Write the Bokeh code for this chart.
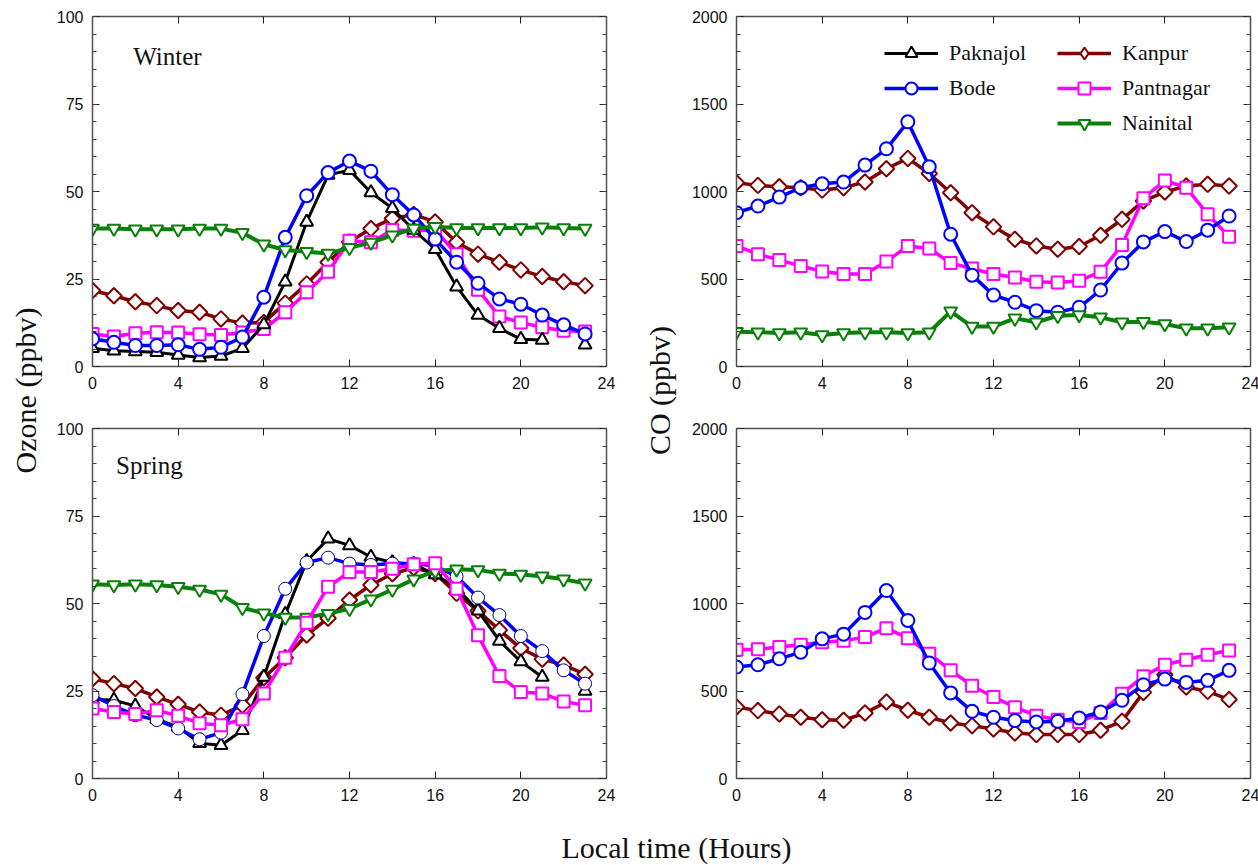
import math
from bokeh.plotting import figure
from bokeh.models import (LinearAxis, Range1d, Legend, LegendItem, Label, FixedTicker,
                          CustomLabelingPolicy)
from bokeh.layouts import row, column
from bokeh.embed import file_html
from bokeh.resources import INLINE

nan = float("nan")
hours = list(range(24))
x_ticks = [0, 4, 8, 12, 16, 20, 24]

# Ozone (ppbv), winter
o3_win_paknajol = [5.2, 4.5, 4.3, 4.1, 3.3, 2.6, 3.0, 5.2, 12.0, 24.2, 41.3, 54.7,
                   56.1, 49.7, 45.2, 39.0, 33.5, 22.8, 14.7, 10.9, 7.8, 7.6, nan, 6.2]
o3_win_bode = [7.9, 6.9, 6.0, 6.0, 6.2, 4.9, 5.5, 8.4, 19.8, 36.9, 48.8, 55.4,
               58.7, 55.8, 49.1, 43.3, 36.4, 29.8, 23.8, 19.3, 17.8, 14.7, 11.9, 9.3]
o3_win_kanpur = [21.7, 20.2, 18.5, 17.4, 16.0, 15.5, 13.6, 12.4, 12.6, 18.1, 23.6, 29.8,
                 35.6, 39.4, 42.3, 43.4, 41.3, 35.5, 32.1, 29.8, 27.6, 25.7, 24.2, 23.1]
o3_win_pantnagar = [9.3, 8.6, 9.5, 9.8, 9.7, 9.2, 9.0, 9.7, 10.7, 15.5, 21.2, 27.1,
                    35.9, 35.5, 39.0, 38.8, 39.0, 32.1, 21.9, 14.3, 12.6, 11.2, 10.2, 10.0]
o3_win_nainital = [39.4, 39.4, 39.2, 39.2, 39.2, 39.4, 39.4, 38.2, 34.9, 33.3, 32.8, 32.3,
                   33.9, 35.4, 37.5, 39.4, 39.9, 39.6, 39.6, 39.6, 39.6, 39.8, 39.6, 39.4]

# Ozone (ppbv), spring
o3_spr_paknajol = [22.6, 22.4, 20.7, 17.0, 14.7, 10.1, 9.5, 13.8, 29.0, 46.9, 62.1, 68.5,
                   66.6, 63.3, 61.7, 61.2, 58.3, 54.5, 47.9, 39.3, 33.4, 29.0, nan, 25.0]
o3_spr_bode = [23.8, 20.7, 18.1, 16.7, 14.3, 11.2, 13.1, 24.1, 40.7, 54.2, 61.7, 63.1,
               61.4, 61.0, 61.4, 61.4, 60.7, 57.7, 51.7, 46.7, 40.7, 36.4, 30.9, 27.1]
o3_spr_kanpur = [28.5, 27.1, 25.7, 23.3, 21.2, 19.0, 18.1, 20.9, 28.8, 34.5, 41.0, 45.8,
                 51.0, 55.3, 58.5, 60.2, 58.6, 52.9, 47.9, 42.4, 37.2, 34.1, 32.4, 29.8]
o3_spr_pantnagar = [20.0, 19.0, 18.4, 19.5, 17.9, 15.8, 15.2, 16.9, 24.3, 34.5, 44.5, 54.8,
                    59.0, 59.0, 59.9, 61.2, 61.5, 54.2, 40.9, 29.3, 24.7, 24.3, 22.0, 20.9]
o3_spr_nainital = [55.5, 55.3, 55.5, 55.3, 54.8, 54.0, 52.6, 48.8, 47.2, 46.0, 46.0, 47.1,
                   48.5, 51.2, 54.0, 56.9, 59.3, 59.8, 59.6, 58.6, 58.3, 57.8, 56.9, 55.8]

# CO (ppbv), winter (no Paknajol CO data; it only appears in the legend)
legend_only = [nan] * 24
co_win_bode = [879, 917, 968, 1022, 1044, 1054, 1151, 1244, 1398, 1141, 756, 522,
               408, 367, 319, 310, 338, 437, 591, 712, 771, 714, 779, 860]
co_win_kanpur = [1050, 1035, 1027, 1022, 1008, 1022, 1054, 1130, 1189, 1103, 993, 879,
                 798, 727, 689, 670, 686, 750, 841, 946, 997, 1031, 1041, 1031]
co_win_pantnagar = [689, 642, 608, 575, 543, 528, 528, 600, 689, 674, 591, 560,
                    528, 509, 484, 480, 490, 541, 695, 961, 1063, 1022, 870, 741]
co_win_nainital = [199, 196, 192, 196, 180, 192, 196, 196, 192, 196, 315, 228,
                   228, 275, 253, 290, 294, 281, 253, 256, 243, 218, 218, 224]

# CO (ppbv), spring
co_spr_bode = [637, 650, 684, 722, 798, 825, 949, 1074, 903, 660, 489, 384,
               350, 331, 323, 327, 346, 380, 447, 536, 568, 549, 561, 618]
co_spr_kanpur = [409, 388, 369, 350, 336, 333, 374, 437, 390, 350, 317, 302,
                 283, 260, 251, 251, 251, 276, 327, 492, 593, 523, 498, 451]
co_spr_pantnagar = [736, 739, 751, 764, 779, 787, 808, 859, 802, 713, 618, 530,
                    466, 407, 359, 336, 323, 374, 485, 584, 650, 679, 707, 732]

# site styles: colour, marker, marker size, line width, marker angle
styles = {
    "Paknajol": ("#000000", "triangle", 13, 3, 0),
    "Bode": ("#0000ff", "circle", 13, 3.5, 0),
    "Kanpur": ("#800000", "square", 11, 3.5, math.pi / 4),
    "Pantnagar": ("#ff00ff", "square", 12, 3.5, 0),
    "Nainital": ("#0a800a", "inverted_triangle", 13, 4, 0),
}

TICK_FONT = "Liberation Sans"
TEXT_FONT = "Liberation Serif"
no_labels = CustomLabelingPolicy(code="return new Set()")


def style_axis(axis, show_labels):
    axis.axis_line_color = "#505050"
    axis.axis_line_width = 1.5
    axis.major_tick_in = 7
    axis.major_tick_out = 0
    axis.minor_tick_in = 4
    axis.minor_tick_out = 0
    axis.major_tick_line_color = "#202020"
    axis.minor_tick_line_color = "#404040"
    axis.major_label_text_font = TICK_FONT
    axis.major_label_text_color = "#111111"
    axis.major_label_text_font_size = "16px"
    if not show_labels:
        axis.major_label_policy = no_labels
        axis.major_label_standoff = 0


def make_panel(ymax, ystep, yminor, left, right, top, bottom):
    p = figure(frame_width=514, frame_height=350,
               x_range=Range1d(0, 24), y_range=Range1d(0, ymax),
               output_backend="svg", toolbar_location=None,
               min_border_left=left, min_border_right=right,
               min_border_top=top, min_border_bottom=bottom)
    p.xgrid.visible = False
    p.ygrid.visible = False
    p.outline_line_color = None
    xt = FixedTicker(ticks=x_ticks, minor_ticks=[])
    yt = FixedTicker(ticks=list(range(0, ymax + 1, ystep)),
                     minor_ticks=list(range(0, ymax + 1, yminor)))
    p.xaxis.ticker = xt
    p.yaxis.ticker = yt
    style_axis(p.xaxis[0], True)
    style_axis(p.yaxis[0], True)
    p.xaxis.major_label_standoff = 10
    p.yaxis.major_label_standoff = 9
    ax_top = LinearAxis(ticker=xt)
    style_axis(ax_top, False)
    p.add_layout(ax_top, "above")
    ax_right = LinearAxis(ticker=yt)
    style_axis(ax_right, False)
    p.add_layout(ax_right, "right")
    return p


def add_site(p, name, values, thin_outline=False):
    color, marker, size, lw, angle = styles[name]
    ln = p.line(hours, values, line_color=color, line_width=lw)
    sc = p.scatter(hours, values, marker=marker, size=size, angle=angle,
                   fill_color="white",
                   line_color="#000080" if thin_outline else color,
                   line_width=1 if thin_outline else 2)
    return [ln, sc]


def season_label(p, text, x, y):
    p.add_layout(Label(x=x, y=y, text=text, text_font=TEXT_FONT,
                       text_font_size="25px", text_baseline="middle",
                       text_color="#111111"))


def text_panel(w, h, text, x, y, angle):
    p = figure(width=w, height=h, x_range=Range1d(0, w), y_range=Range1d(0, h),
               x_axis_type=None, y_axis_type=None, output_backend="svg",
               toolbar_location=None, min_border=0)
    p.xgrid.visible = False
    p.ygrid.visible = False
    p.outline_line_color = None
    p.add_layout(Label(x=x, y=y, text=text, angle=angle, text_align="center",
                       text_baseline="middle", text_font=TEXT_FONT,
                       text_font_size="30px", text_color="#111111"))
    return p


# top-left: winter ozone
p1 = make_panel(100, 25, 5, 44, 16, 16, 40)
add_site(p1, "Kanpur", o3_win_kanpur)
add_site(p1, "Pantnagar", o3_win_pantnagar)
add_site(p1, "Paknajol", o3_win_paknajol)
add_site(p1, "Bode", o3_win_bode)
add_site(p1, "Nainital", o3_win_nainital)
season_label(p1, "Winter", 1.9, 88.6)

# bottom-left: spring ozone
p3 = make_panel(100, 25, 5, 44, 16, 22, 36)
add_site(p3, "Kanpur", o3_spr_kanpur)
add_site(p3, "Paknajol", o3_spr_paknajol)
add_site(p3, "Bode", o3_spr_bode, thin_outline=True)
add_site(p3, "Nainital", o3_spr_nainital)
add_site(p3, "Pantnagar", o3_spr_pantnagar)
season_label(p3, "Spring", 1.1, 89.4)

# top-right: winter CO with legend
p2 = make_panel(2000, 500, 100, 52, 14, 16, 40)
r_kan = add_site(p2, "Kanpur", co_win_kanpur)
r_pan = add_site(p2, "Pantnagar", co_win_pantnagar)
r_pak = add_site(p2, "Paknajol", legend_only)
r_bod = add_site(p2, "Bode", co_win_bode)
r_nai = add_site(p2, "Nainital", co_win_nainital)
# the legend ignores marker angle, so Kanpur gets a diamond stand-in there
kan_key = p2.scatter(hours, legend_only, marker="diamond", size=18,
                     fill_color="white", line_color="#800000", line_width=2)


def make_legend(items, loc):
    lg = Legend(items=items, location=loc, orientation="vertical")
    lg.border_line_color = None
    lg.background_fill_alpha = 0
    lg.margin = 0
    lg.padding = 0
    lg.spacing = 5
    lg.glyph_width = 54
    lg.glyph_height = 30
    lg.label_height = 30
    lg.label_standoff = 11
    lg.label_text_font = TEXT_FONT
    lg.label_text_font_size = "22px"
    lg.label_text_color = "#111111"
    return lg


p2.add_layout(make_legend([LegendItem(label="Paknajol", renderers=r_pak),
                           LegendItem(label="Bode", renderers=r_bod)], (148, 263)))
p2.add_layout(make_legend([LegendItem(label="Kanpur", renderers=[r_kan[0], kan_key]),
                           LegendItem(label="Pantnagar", renderers=r_pan),
                           LegendItem(label="Nainital", renderers=r_nai)], (321, 228)))

# bottom-right: spring CO
p4 = make_panel(2000, 500, 100, 52, 14, 22, 36)
add_site(p4, "Kanpur", co_spr_kanpur)
add_site(p4, "Pantnagar", co_spr_pantnagar)
add_site(p4, "Bode", co_spr_bode)

lab_oz = text_panel(48, 810, "Ozone (ppbv)", 25, 420, math.pi / 2)
lab_co = text_panel(48, 810, "CO (ppbv)", 23, 420, math.pi / 2)
lab_time = text_panel(1250, 50, "Local time (Hours)", 676, 17, 0)

layout = column(row(lab_oz, column(p1, p3), lab_co, column(p2, p4)), lab_time)

open("out.html", "w").write(file_html(layout, INLINE))
